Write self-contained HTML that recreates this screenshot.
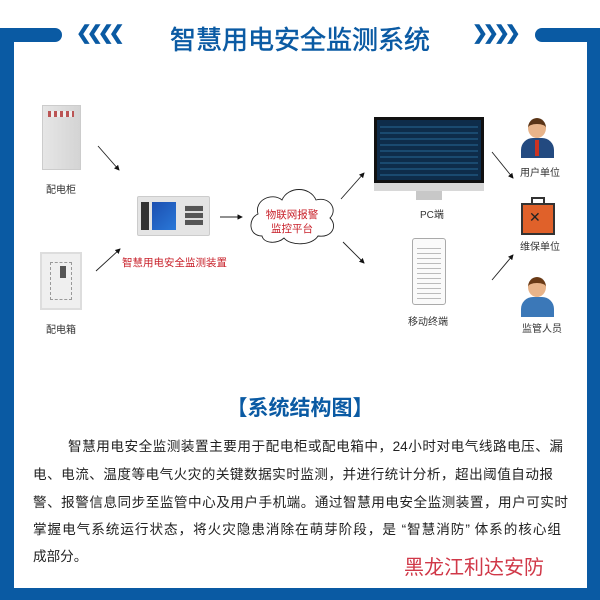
<!DOCTYPE html>
<html><head><meta charset="utf-8"><style>
*{margin:0;padding:0;box-sizing:border-box}
body{width:600px;height:600px;background:#0a5aa3;position:relative;overflow:hidden;font-family:"Liberation Sans","Noto Sans CJK SC",sans-serif}
.a{position:absolute}
.w{position:absolute;left:14px;top:0;width:573px;height:588px;background:#fff}
.lbl{position:absolute;font-size:10px;color:#333;white-space:nowrap}
.ln{position:absolute;left:33px;width:530px;font-size:13.6px;color:#222;text-align:justify;text-align-last:justify;white-space:nowrap;height:20px;line-height:20px}
</style></head><body>
<div class="w"></div>
<div class="a" style="left:0;top:0;width:600px;height:28px;background:#fff"></div>
<div class="a" style="left:0;top:28px;width:62px;height:14px;background:#0a5aa3;border-radius:0 7px 7px 0"></div>
<div class="a" style="left:535px;top:28px;width:65px;height:14px;background:#0a5aa3;border-radius:7px 0 0 7px"></div>
<div class="a" style="left:76px;top:22px;font-size:19px;font-weight:bold;color:#0a5aa3;letter-spacing:-5px">❮❮❮❮</div>
<div class="a" style="left:472px;top:22px;font-size:19px;font-weight:bold;color:#0a5aa3;letter-spacing:-5px">❯❯❯❯</div>
<div class="a" style="left:145px;top:20px;width:310px;text-align:center;font-size:26px;color:#0a5aa3;white-space:nowrap;-webkit-text-stroke:0.5px #0a5aa3">智慧用电安全监测系统</div>

<!-- 配电柜 -->
<div class="a" style="left:42px;top:105px;width:39px;height:65px;background:linear-gradient(90deg,#e6e6e6,#d4d4d4);border:1px solid #ccc"></div>
<div class="a" style="left:48px;top:111px;width:26px;height:6px;background:repeating-linear-gradient(90deg,#b55 0 3px,#eee 3px 6px)"></div>
<div class="lbl" style="left:46px;top:181px">配电柜</div>
<!-- 配电箱 -->
<div class="a" style="left:40px;top:252px;width:42px;height:58px;background:#efefef;border:2px solid #ddd"></div>
<div class="a" style="left:50px;top:262px;width:22px;height:38px;border:1px dashed #999"></div>
<div class="a" style="left:60px;top:266px;width:6px;height:12px;background:#555"></div>
<div class="lbl" style="left:46px;top:321px">配电箱</div>
<!-- device -->
<div class="a" style="left:137px;top:196px;width:73px;height:40px;background:#e4e4e4;border:1px solid #ccc;border-radius:2px"></div>
<div class="a" style="left:141px;top:202px;width:8px;height:28px;background:#333"></div>
<div class="a" style="left:152px;top:202px;width:24px;height:28px;background:linear-gradient(135deg,#1c4fb0,#2a78d8)"></div>
<div class="a" style="left:185px;top:205px;width:18px;height:20px;background:repeating-linear-gradient(0deg,#555 0 5px,#ddd 5px 7px)"></div>
<div class="a" style="left:122px;top:255px;font-size:10.5px;color:#c8202a;white-space:nowrap">智慧用电安全监测装置</div>

<svg class="a" style="left:0;top:0" width="600" height="600">
<defs><marker id="m" markerWidth="6" markerHeight="6" refX="5" refY="3" orient="auto"><path d="M0,0L6,3L0,6z" fill="#111"/></marker></defs>
<g stroke="#222" stroke-width="0.9" fill="none" marker-end="url(#m)">
<line x1="98" y1="146" x2="119" y2="170"/>
<line x1="96" y1="271" x2="120" y2="249"/>
<line x1="220" y1="217" x2="242" y2="217"/>
<line x1="341" y1="199" x2="364" y2="173"/>
<line x1="343" y1="242" x2="364" y2="263"/>
<line x1="492" y1="152" x2="513" y2="178"/>
<line x1="492" y1="280" x2="513" y2="255"/>
</g>
<path d="M262,236 C248,236 248,218 258,214 C254,200 272,192 282,200 C288,186 310,186 316,200 C330,196 338,210 330,218 C338,226 332,238 318,236 C312,246 290,246 284,238 C278,244 264,244 262,236z" fill="#fff" stroke="#222" stroke-width="0.9"/>
<text x="292" y="218" font-size="10.5" fill="#c8202a" text-anchor="middle" font-family="Liberation Sans,Noto Sans CJK SC,sans-serif">物联网报警</text>
<text x="292" y="232" font-size="10.5" fill="#c8202a" text-anchor="middle" font-family="Liberation Sans,Noto Sans CJK SC,sans-serif">监控平台</text>
</svg>

<!-- monitor -->
<div class="a" style="left:374px;top:117px;width:110px;height:66px;background:#0e2c4a;border:3px solid #111"></div>
<div class="a" style="left:380px;top:124px;width:98px;height:52px;background:repeating-linear-gradient(0deg,#1a4a70 0 2px,#0e2c4a 2px 6px)"></div>
<div class="a" style="left:374px;top:183px;width:110px;height:8px;background:#d8d8d8"></div>
<div class="a" style="left:416px;top:191px;width:26px;height:9px;background:#c8c8c8"></div>
<div class="lbl" style="left:420px;top:206px">PC端</div>
<!-- phone -->
<div class="a" style="left:412px;top:238px;width:34px;height:67px;background:#fafafa;border:1px solid #aaa;border-radius:3px"></div>
<div class="a" style="left:417px;top:245px;width:24px;height:54px;background:repeating-linear-gradient(0deg,#bbb 0 1px,#fafafa 1px 5px)"></div>
<div class="lbl" style="left:408px;top:313px">移动终端</div>
<!-- persons -->
<div class="a" style="left:528px;top:118px;width:18px;height:20px;background:#e8b48a;border-radius:50%;border-top:6px solid #5a3416"></div>
<div class="a" style="left:521px;top:138px;width:33px;height:20px;background:#234a80;border-radius:12px 12px 0 0"></div>
<div class="a" style="left:535px;top:140px;width:4px;height:16px;background:#c32"></div>
<div class="lbl" style="left:520px;top:164px">用户单位</div>
<div class="a" style="left:531px;top:197px;width:14px;height:6px;border:2px solid #333;border-bottom:none"></div>
<div class="a" style="left:521px;top:203px;width:34px;height:32px;background:#e0612a;border:2px solid #333"></div>
<div class="a" style="left:529px;top:209px;font-size:14px;color:#222">✕</div>
<div class="lbl" style="left:520px;top:238px">维保单位</div>
<div class="a" style="left:528px;top:277px;width:18px;height:20px;background:#e8b48a;border-radius:50%;border-top:6px solid #6a3a16"></div>
<div class="a" style="left:521px;top:297px;width:33px;height:20px;background:#3b78b8;border-radius:12px 12px 0 0"></div>
<div class="lbl" style="left:522px;top:320px">监管人员</div>

<div class="a" style="left:0;top:392px;width:600px;text-align:center;font-size:21px;font-weight:bold;color:#0a5aa3">【系统结构图】</div>

<div class="ln" style="left:68px;width:495px;top:437px">智慧用电安全监测装置主要用于配电柜或配电箱中，24小时对电气线路电压、漏</div>
<div class="ln" style="top:465px;width:520px">电、电流、温度等电气火灾的关键数据实时监测，并进行统计分析，超出阈值自动报</div>
<div class="ln" style="top:493px;width:535px">警、报警信息同步至监管中心及用户手机端。通过智慧用电安全监测装置，用户可实时</div>
<div class="ln" style="top:520px;width:528px">掌握电气系统运行状态，将火灾隐患消除在萌芽阶段，是 “智慧消防” 体系的核心组</div>
<div class="ln" style="top:547px;width:auto;text-align:left;text-align-last:left">成部分。</div>
<div class="a" style="left:404px;top:551px;font-size:20px;color:#d03848;white-space:nowrap">黑龙江利达安防</div>
</body></html>
